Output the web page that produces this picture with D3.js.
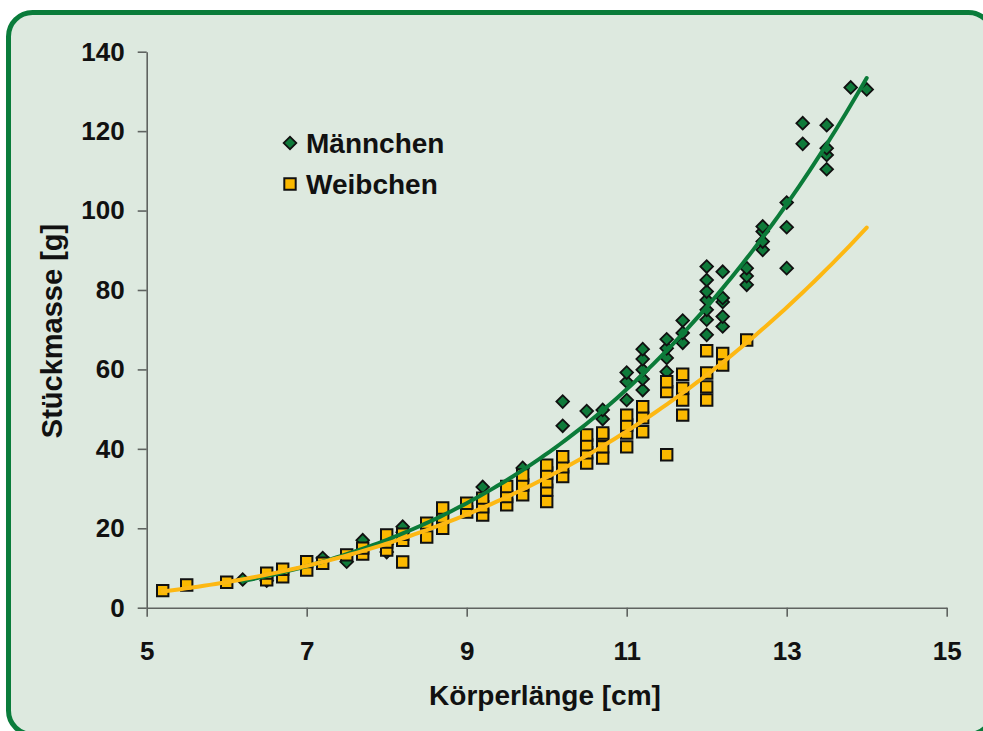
<!DOCTYPE html>
<html>
<head>
<meta charset="utf-8">
<script src="https://cdn.jsdelivr.net/npm/d3@7"></script>
<style>
  html, body { margin: 0; padding: 0; background: #ffffff; }
  svg { display: block; }
  text { font-family: "Liberation Sans", Arial, sans-serif; font-weight: bold; fill: #111; }
</style>
</head>
<body>
<div id="chart"></div>
<script>
// ---------- data ----------
const xTicks = [5, 7, 9, 11, 13, 15];
const yTicks = [0, 20, 40, 60, 80, 100, 120, 140];
const seriesNames = ["Männchen", "Weibchen"];
const xTitle = "Körperlänge [cm]";
const yTitle = "Stückmasse [g]";

// Männchen (males)
const maleX = [6.2, 6.5, 7.2, 7.5, 7.7, 8.0, 8.0, 8.2, 8.2, 9.2, 9.7,
  10.2, 10.2, 10.5, 10.7, 10.7,
  11.0, 11.0, 11.0,
  11.2, 11.2, 11.2, 11.2, 11.2,
  11.5, 11.5, 11.5, 11.5,
  11.7, 11.7, 11.7,
  12.0, 12.0, 12.0, 12.0, 12.0, 12.0, 12.0,
  12.2, 12.2, 12.2, 12.2, 12.2,
  12.5, 12.5, 12.5,
  12.7, 12.7, 12.7, 12.7,
  13.0, 13.0, 13.0,
  13.2, 13.2,
  13.5, 13.5, 13.5, 13.5,
  13.8, 14.0];
const maleY = [7.1, 6.8, 12.5, 11.6, 17, 14, 16, 19, 20.4, 30.4, 35.2,
  45.8, 51.9, 49.5, 47.5, 49.8,
  52.3, 56.9, 59.2,
  54.8, 57.6, 59.9, 62.6, 65.1,
  59.4, 62.9, 65.3, 67.6,
  66.7, 69.2, 72.3,
  68.7, 72.5, 75, 77.5, 79.6, 82.5, 85.9,
  70.8, 73.3, 77, 78, 84.6,
  81.3, 83.5, 85.5,
  90.1, 92.2, 94.7, 96,
  85.5, 95.8, 102,
  116.8, 122,
  110.4, 114, 115.7, 121.5,
  131, 130.5];

// Weibchen (females)
const femaleX = [5.2, 5.5, 6.0, 6.5, 6.5, 6.7, 6.7, 7.0, 7.0, 7.2, 7.5, 7.7, 7.7,
  8.0, 8.0, 8.0, 8.2, 8.2, 8.2, 8.5, 8.5, 8.7, 8.7, 8.7,
  9.0, 9.0, 9.2, 9.2, 9.2, 9.5, 9.5, 9.5, 9.7, 9.7, 9.7,
  10.0, 10.0, 10.0, 10.0, 10.0, 10.2, 10.2, 10.2,
  10.5, 10.5, 10.5, 10.5, 10.7, 10.7, 10.7, 10.7,
  11.0, 11.0, 11.0, 11.0, 11.2, 11.2, 11.2,
  11.5, 11.5, 11.5, 11.7, 11.7, 11.7, 11.7,
  12.0, 12.0, 12.0, 12.0, 12.2, 12.2, 12.5];
const femaleY = [4.3, 5.7, 6.4, 7.0, 8.7, 7.8, 9.7, 9.5, 11.6, 11.2, 13.3, 13.5, 15,
  14.5, 16.5, 18.3, 11.5, 17, 18.5, 17.8, 21.3, 20, 22.8, 25.1,
  24.1, 26.3, 23.3, 25.4, 27.6, 25.9, 28, 30.5, 28.4, 30.9, 33.4,
  26.7, 29.6, 31.7, 33.9, 35.9, 33, 35.5, 38,
  36.4, 39, 41, 43.5, 37.7, 40.5, 43.5, 44,
  40.5, 44, 46, 48.5, 44.3, 47.8, 50.6,
  38.5, 54.4, 56.9, 48.5, 52.3, 55.3, 58.8,
  52.3, 55.6, 59.1, 64.7, 61.1, 64, 67.4];

// x-range over which each power trendline is drawn (female one is extended forward)
const maleTrendRange = [6.2, 14.0];
const femaleTrendRange = [5.2, 14.0];

// ---------- layout ----------
const W = 983, H = 731;
const svg = d3.select("#chart").append("svg").attr("width", W).attr("height", H);

svg.append("rect")
  .attr("x", 8.5).attr("y", 12.5).attr("width", 984).attr("height", 722)
  .attr("rx", 24).attr("ry", 24)
  .attr("fill", "#dde9df").attr("stroke", "#0a7c3b").attr("stroke-width", 5);

const x = d3.scaleLinear().domain([5, 15]).range([146.7, 946.7]);
const y = d3.scaleLinear().domain([0, 140]).range([607.7, 51.7]);

const axisColor = "#5f6360";

const gx = svg.append("g").attr("transform", `translate(0,${y(0)})`)
  .call(d3.axisBottom(x).tickValues(xTicks).tickSize(9).tickSizeOuter(0).tickPadding(25).tickFormat(d3.format("d")));
const gy = svg.append("g").attr("transform", `translate(${x(5)},0)`)
  .call(d3.axisLeft(y).tickValues(yTicks).tickSize(9).tickSizeOuter(0).tickPadding(13).tickFormat(d3.format("d")));

[gx, gy].forEach(g => {
  g.select(".domain").attr("stroke", axisColor).attr("stroke-width", 1.6);
  g.selectAll(".tick line").attr("stroke", axisColor).attr("stroke-width", 1.6);
  g.selectAll(".tick text")
    .attr("fill", "#111")
    .style("font-family", '"Liberation Sans", Arial, sans-serif')
    .style("font-weight", "bold")
    .style("font-size", "26px");
});

// axis titles
svg.append("text")
  .attr("x", 545).attr("y", 705)
  .attr("text-anchor", "middle")
  .style("font-size", "28px")
  .text(xTitle);
svg.append("text")
  .attr("transform", "translate(62,331) rotate(-90)")
  .attr("text-anchor", "middle")
  .style("font-size", "29px")
  .text(yTitle);

// ---------- markers ----------
const maleColor = "#0f7a3a", maleLine = "#0b7b39";
const femaleColor = "#fbb900", femaleLine = "#fdb813";

const males = maleX.map((v, i) => ({ x: v, y: maleY[i] }));
const females = femaleX.map((v, i) => ({ x: v, y: femaleY[i] }));

const diamond = d3.symbol().type(d3.symbolSquare).size(80)();
const square = d3.symbol().type(d3.symbolSquare).size(130)();

svg.append("g").selectAll("path").data(males).join("path")
  .attr("d", diamond)
  .attr("transform", d => `translate(${x(d.x)},${y(d.y)}) rotate(45)`)
  .attr("fill", maleColor).attr("stroke", "#111").attr("stroke-width", 1.8);

svg.append("g").selectAll("path").data(females).join("path")
  .attr("d", square)
  .attr("transform", d => `translate(${x(d.x)},${y(d.y)})`)
  .attr("fill", femaleColor).attr("stroke", "#111").attr("stroke-width", 2);

// ---------- power trendlines (least squares in log-log space) ----------
function powerFit(pts, range) {
  const lx = pts.map(p => Math.log(p.x)), ly = pts.map(p => Math.log(p.y));
  const mx = d3.mean(lx), my = d3.mean(ly);
  const b = d3.sum(lx, (v, i) => (v - mx) * (ly[i] - my)) / d3.sum(lx, v => (v - mx) * (v - mx));
  const a = Math.exp(my - b * mx);
  const [x0, x1] = range;
  const n = 120;
  return d3.range(n + 1).map(i => {
    const xv = x0 + (x1 - x0) * i / n;
    return { x: xv, y: a * Math.pow(xv, b) };
  });
}

const line = d3.line().x(d => x(d.x)).y(d => y(d.y)).curve(d3.curveLinear);

svg.append("path").datum(powerFit(males, maleTrendRange))
  .attr("d", line).attr("fill", "none")
  .attr("stroke", maleLine).attr("stroke-width", 4).attr("stroke-linecap", "round");
svg.append("path").datum(powerFit(females, femaleTrendRange))
  .attr("d", line).attr("fill", "none")
  .attr("stroke", femaleLine).attr("stroke-width", 4).attr("stroke-linecap", "round");

// ---------- legend ----------
const legend = svg.append("g");
legend.append("path").attr("d", diamond)
  .attr("transform", "translate(290,143) rotate(45)")
  .attr("fill", maleColor).attr("stroke", "#111").attr("stroke-width", 1.8);
legend.append("text").attr("x", 306).attr("y", 153).style("font-size", "28px").text(seriesNames[0]);
legend.append("path").attr("d", square)
  .attr("transform", "translate(290,184)")
  .attr("fill", femaleColor).attr("stroke", "#111").attr("stroke-width", 2);
legend.append("text").attr("x", 306).attr("y", 194).style("font-size", "28px").text(seriesNames[1]);
</script>
</body>
</html>
